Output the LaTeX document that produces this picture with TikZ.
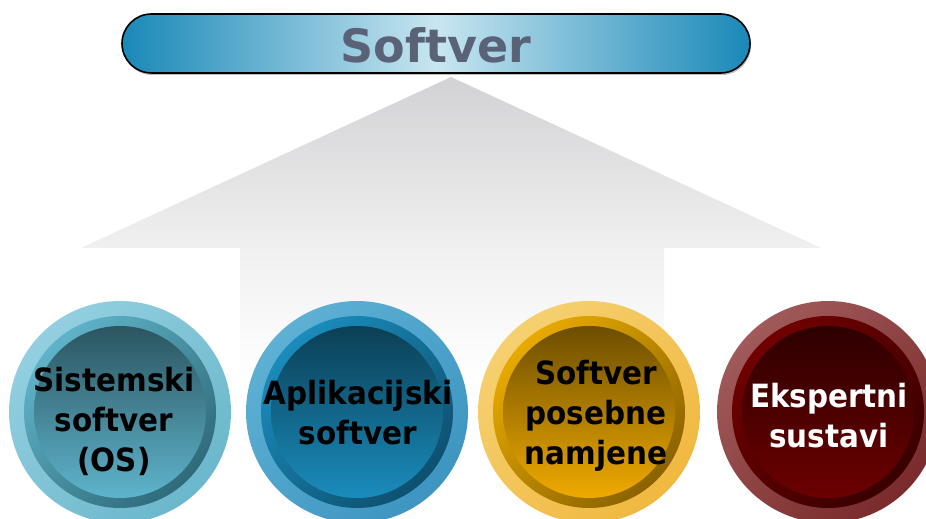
\documentclass[tikz,border=0pt]{standalone}
\usepackage{fontspec}
\setmainfont{DejaVu Sans}
\newfontfamily\circfont[FakeStretch=0.92]{DejaVu Sans}
\definecolor{bannergray}{HTML}{5A6278}
\definecolor{bannerblue}{HTML}{1A88B8}
\definecolor{bannerlight}{HTML}{C8E6F0}
\definecolor{arrowtop}{HTML}{D2D2D4}
\definecolor{arrowmid}{HTML}{F0F0F1}
\definecolor{aoA}{HTML}{93CFE0}\definecolor{aoB}{HTML}{6BB7CB}
\definecolor{amA}{HTML}{5FB3C8}\definecolor{amB}{HTML}{2F6A7A}
\definecolor{aiA}{HTML}{2C5560}\definecolor{aiB}{HTML}{5EB4CC}
\definecolor{boA}{HTML}{5EB0D4}\definecolor{boB}{HTML}{3D95C0}
\definecolor{bmA}{HTML}{1A8CBC}\definecolor{bmB}{HTML}{0E5070}
\definecolor{biA}{HTML}{0B3F55}\definecolor{biB}{HTML}{1A8CBC}
\definecolor{coA}{HTML}{F6D070}\definecolor{coB}{HTML}{F0B840}
\definecolor{cmA}{HTML}{E8AA00}\definecolor{cmB}{HTML}{8A6200}
\definecolor{ciA}{HTML}{6C4E00}\definecolor{ciB}{HTML}{F0AA00}
\definecolor{doA}{HTML}{A05A5A}\definecolor{doB}{HTML}{7A2A2A}
\definecolor{dmA}{HTML}{700000}\definecolor{dmB}{HTML}{3A0000}
\definecolor{diA}{HTML}{2E0000}\definecolor{diB}{HTML}{6C0000}
\newcommand{\mycirc}[2]{%
  \shade[top color=#2oA, bottom color=#2oB, shading angle=45] (#1,107) circle (111);
  \shade[top color=#2mA, bottom color=#2mB, shading angle=45] (#1,107) circle (96);
  \shade[top color=#2iA, bottom color=#2iB] (#1,107) circle (86);
}
\begin{document}
\begin{tikzpicture}[x=1pt,y=1pt,
  circtext/.style={font=\circfont\bfseries\fontsize{32}{40}\selectfont, align=center, inner sep=0pt},
  bannertext/.style={font=\bfseries\fontsize{46}{50}\selectfont, text=bannergray, inner sep=0pt}]
\useasboundingbox (0,0) rectangle (926,519);
\fill[white] (0,0) rectangle (926,519);
% arrow
\shade[top color=arrowmid, bottom color=white] (240,140) rectangle (664,272);
\shade[top color=arrowtop, bottom color=arrowmid] (81,271) -- (451,442) -- (821,271) -- cycle;
% banner
\fill[black!25, rounded corners=29pt] (123,444) rectangle (751,503);
\shade[left color=bannerblue, right color=bannerblue, middle color=bannerlight, rounded corners=29.5pt, draw=black, line width=1.6pt]
  (122,446) rectangle (750,505);
\node[bannertext] (title) at (436,474) {Softver};
% circles
\mycirc{120}{a}
\mycirc{357}{b}
\mycirc{589}{c}
\mycirc{828}{d}
\node[circtext] (c1) at (114,98) {Sistemski\\softver\\(OS)};
\node[circtext] (c2) at (358,106) {Aplikacijski\\softver};
\node[circtext] (c3) at (596,103) {Softver\\posebne\\namjene};
\node[circtext, text=white] (c4) at (829,103) {Ekspertni\\sustavi};
\end{tikzpicture}
\end{document}
